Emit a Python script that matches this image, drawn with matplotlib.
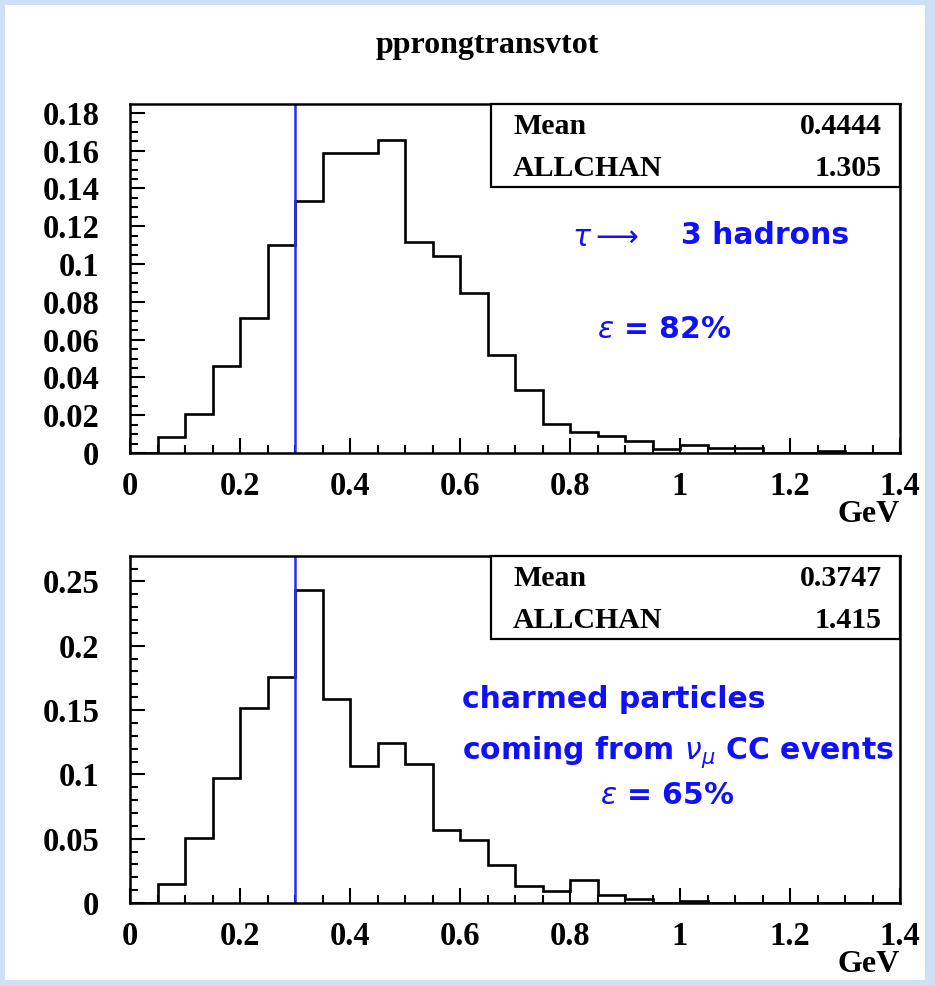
import numpy as np
import matplotlib
matplotlib.use("Agg")
import matplotlib.pyplot as plt
from matplotlib.patches import Rectangle
from matplotlib.ticker import MultipleLocator, FuncFormatter

# ---------------- data ----------------
title = "pprongtransvtot"
bin_width = 0.05
x_max = 1.4
cut_value = 0.3

top_values = [0.0, 0.0085, 0.0208, 0.046, 0.0714, 0.110, 0.1335, 0.159, 0.159,
              0.1656, 0.1118, 0.1042, 0.0847, 0.052, 0.0333, 0.0152, 0.0111,
              0.009, 0.0062, 0.0021, 0.0042, 0.0028, 0.0028, 0.0, 0.0, 0.0012,
              0.0, 0.0]
bottom_values = [0.0, 0.0148, 0.0503, 0.097, 0.1514, 0.1757, 0.2434, 0.1584,
                 0.1065, 0.1242, 0.108, 0.0568, 0.049, 0.0292, 0.0132, 0.0093,
                 0.0176, 0.0062, 0.0029, 0.0, 0.0012, 0.0, 0.0, 0.0, 0.0, 0.0,
                 0.0, 0.0]

top_stats = [("Mean", "0.4444"), ("ALLCHAN", "1.305")]
bottom_stats = [("Mean", "0.3747"), ("ALLCHAN", "1.415")]

x_label = "GeV"
top_note = [r"$\tau\longrightarrow$", "3 hadrons", r"$\varepsilon$ = 82%"]
bottom_note = ["charmed particles", r"coming from $\nu_\mu$ CC events",
               r"$\varepsilon$ = 65%"]

# ---------------- figure ----------------
W, H = 935, 986
DPI = 100
fig = plt.figure(figsize=(W / DPI, H / DPI), dpi=DPI)
fig.patch.set_facecolor("#cfe0f6")
fig.patches.append(Rectangle((5 / W, 1 - 980 / H), 920 / W, 975 / H,
                             transform=fig.transFigure, facecolor="white",
                             edgecolor="none", zorder=-5))

SERIF = "Liberation Serif"
BLUE = "#1010ff"
plt.rcParams["mathtext.fontset"] = "dejavusans"
plt.rcParams["mathtext.default"] = "it"


def px(x, y):
    return x / W, 1 - y / H


def fmt(v, pos):
    s = "%.2f" % v
    s = s.rstrip("0").rstrip(".")
    return s if s else "0"


def make_axes(top_px, bottom_px, values, ymax, ymaj, ymin):
    l, r = 130, 900
    ax = fig.add_axes([l / W, 1 - bottom_px / H, (r - l) / W,
                       (bottom_px - top_px) / H])
    ax.set_facecolor("none")
    edges = np.arange(len(values) + 1) * bin_width
    ax.stairs(values, edges, color="black", linewidth=1.9, baseline=0)
    ax.axvline(cut_value, color="#2a2aff", linewidth=1.8)
    ax.set_xlim(0, x_max)
    ax.set_ylim(0, ymax)
    ax.xaxis.set_major_locator(MultipleLocator(0.2))
    ax.xaxis.set_minor_locator(MultipleLocator(0.05))
    ax.yaxis.set_major_locator(MultipleLocator(ymaj))
    ax.yaxis.set_minor_locator(MultipleLocator(ymin))
    ax.xaxis.set_major_formatter(FuncFormatter(fmt))
    ax.yaxis.set_major_formatter(FuncFormatter(fmt))
    ax.tick_params(which="both", direction="in", top=False, right=False,
                   width=1.5, colors="black")
    ax.tick_params(which="major", length=11)
    ax.tick_params(which="minor", length=6)
    ax.tick_params(axis="x", which="major", pad=13)
    ax.tick_params(axis="y", which="major", pad=22)
    for lab in ax.get_xticklabels() + ax.get_yticklabels():
        lab.set_fontfamily(SERIF)
        lab.set_fontweight("bold")
        lab.set_fontsize(23.5)
    for s in ax.spines.values():
        s.set_linewidth(1.8)
    return ax


def stats_box(top_px, rows):
    x0, x1 = 491, 900
    y1 = top_px + 83
    fig.patches.append(Rectangle(px(x0, y1), (x1 - x0) / W, 83 / H,
                                 transform=fig.transFigure, facecolor="white",
                                 edgecolor="black", linewidth=1.6, zorder=5))
    for i, (name, val) in enumerate(rows):
        yy = top_px + 23 + i * 41
        fig.text(*px(513, yy), name, ha="left", va="center", family=SERIF,
                 weight="bold", fontsize=21.5, zorder=6)
        fig.text(*px(882, yy), val, ha="right", va="center", family=SERIF,
                 weight="bold", fontsize=21.5, zorder=6)


ax1 = make_axes(104, 453, top_values, 0.1847, 0.02, 0.005)
ax2 = make_axes(556, 903, bottom_values, 0.2698, 0.05, 0.01)

stats_box(104, top_stats)
stats_box(556, bottom_stats)

fig.text(*px(487, 45), title, ha="center", va="center", family=SERIF,
         weight="bold", fontsize=23)
fig.text(*px(900, 515), x_label, ha="right", va="center", family=SERIF,
         weight="bold", fontsize=23)
fig.text(*px(900, 965), x_label, ha="right", va="center", family=SERIF,
         weight="bold", fontsize=23)

note_kw = dict(ha="left", va="center", color=BLUE, family="DejaVu Sans",
               fontsize=21.5, weight="bold")
fig.text(*px(572, 237), top_note[0], **note_kw)
fig.text(*px(681, 236), top_note[1], **note_kw)
fig.text(*px(597, 330), top_note[2], **note_kw)
fig.text(*px(462, 700), bottom_note[0], **note_kw)
fig.text(*px(462, 752), bottom_note[1], **note_kw)
fig.text(*px(600, 795), bottom_note[2], **note_kw)

fig.savefig("out.png", dpi=DPI)
